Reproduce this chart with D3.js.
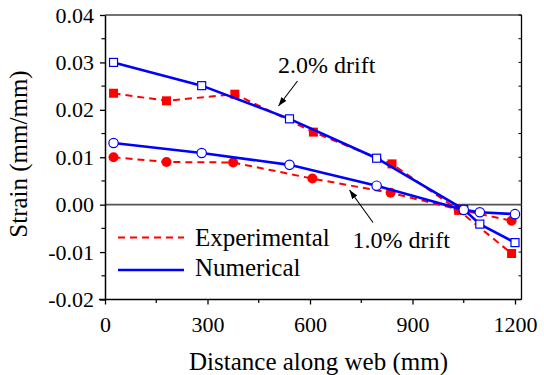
<!DOCTYPE html>
<html>
<head>
<meta charset="utf-8">
<script src="https://cdn.jsdelivr.net/npm/d3@7"></script>
<style>
  html, body { margin: 0; padding: 0; background: #fff; }
  svg text { font-family: "Liberation Serif", "Times New Roman", serif; }
</style>
</head>
<body>
<svg id="chart" width="544" height="375"></svg>
<script>
// Strain distribution along the web at two drift levels
const expX2 = [25, 180, 380, 610, 840, 1035, 1190];
const expY2 = [0.0235, 0.0219, 0.0233, 0.0153, 0.0086, -0.0012, -0.0103];
const expX1 = [25, 180, 375, 607, 836, 1035, 1190];
const expY1 = [0.0100, 0.0090, 0.0089, 0.0055, 0.0025, -0.0010, -0.0034];
const numX = [25, 283, 540, 795, 1050, 1097, 1200];
const numY2 = [0.0300, 0.0251, 0.0181, 0.0098, -0.0010, -0.0041, -0.0080];
const numY1 = [0.0130, 0.0109, 0.0084, 0.0040, -0.0011, -0.0016, -0.0020];
const xTicks = [0, 300, 600, 900, 1200];
const yTicks = [-0.02, -0.01, 0.00, 0.01, 0.02, 0.03, 0.04];

const svg = d3.select("#chart");
const pLeft = 105, pRight = 521.5, pTop = 15, pBottom = 299.5;
const FONT = "Liberation Serif";

const x = d3.scaleLinear().domain([0, 1220]).range([pLeft, pLeft + (1220 / 1200) * (515 - pLeft)]);
const y = d3.scaleLinear().domain([-0.02, 0.04]).range([pBottom, pTop]);

const RED = "#ff0000", BLUE = "#0000ff";

// frame (top and right)
svg.append("line").attr("x1", pLeft).attr("x2", pRight).attr("y1", pTop).attr("y2", pTop)
  .attr("stroke", "#444").attr("stroke-width", 1.3);
svg.append("line").attr("x1", pRight).attr("x2", pRight).attr("y1", pTop).attr("y2", pBottom)
  .attr("stroke", "#000").attr("stroke-width", 1.3);
svg.append("g").selectAll("line").data(d3.range(-0.02, 0.0401, 0.005)).join("line")
  .attr("x1", pRight).attr("x2", pRight - 3).attr("y1", d => y(d)).attr("y2", d => y(d))
  .attr("stroke", "#000").attr("stroke-width", 1);

// zero reference line
svg.append("line").attr("x1", pLeft).attr("x2", pRight).attr("y1", y(0)).attr("y2", y(0))
  .attr("stroke", "#555").attr("stroke-width", 1.8);

// x axis
const xAxis = d3.axisBottom(x).tickValues(xTicks).tickFormat(d3.format("d")).tickSize(5).tickSizeOuter(0);
const gx = svg.append("g").attr("transform", `translate(0,${pBottom})`).call(xAxis);
gx.attr("font-family", FONT).attr("font-size", 22);
gx.selectAll(".tick line").attr("stroke-width", 1.3);
gx.select(".domain").attr("stroke-width", 1.5).attr("d", `M${pLeft - 6},0H${pRight}`);
gx.selectAll("text").attr("fill", "#000").attr("dy", null).attr("y", 32.5);
svg.append("g").attr("transform", `translate(0,${pBottom})`)
  .selectAll("line").data([150, 450, 750, 1050]).join("line")
  .attr("x1", d => x(d)).attr("x2", d => x(d)).attr("y1", 0).attr("y2", 3.5)
  .attr("stroke", "#000").attr("stroke-width", 1.2);

// y axis
const yAxis = d3.axisLeft(y).tickValues(yTicks).tickSize(5).tickSizeOuter(0).tickPadding(6)
  .tickFormat(d => (d < 0 ? "-" : "") + d3.format(".2f")(Math.abs(d)));
const gy = svg.append("g").attr("transform", `translate(${pLeft},0)`).call(yAxis);
gy.attr("font-family", FONT).attr("font-size", 22);
gy.selectAll(".tick line").attr("stroke-width", 1.3);
gy.select(".domain").attr("stroke-width", 1.5);
gy.selectAll("text").attr("fill", "#000");
svg.append("g").attr("transform", `translate(${pLeft},0)`)
  .selectAll("line").data([-0.015, -0.005, 0.005, 0.015, 0.025, 0.035]).join("line")
  .attr("x1", 0).attr("x2", -3.5).attr("y1", d => y(d)).attr("y2", d => y(d))
  .attr("stroke", "#000").attr("stroke-width", 1.2);

// axis titles
svg.append("text").attr("x", 318.5).attr("y", 370).attr("text-anchor", "middle")
  .attr("font-family", FONT).attr("font-size", 25).text("Distance along web (mm)");
svg.append("text").attr("transform", "translate(26.5,154) rotate(-90)")
  .attr("text-anchor", "middle").attr("font-family", FONT).attr("font-size", 25).text("Strain (mm/mm)");

const line = d3.line().x(d => x(d[0])).y(d => y(d[1]));
const zip = (xs, ys) => xs.map((v, i) => [v, ys[i]]);

// experimental series: dashed red with filled markers
function drawExp(xs, ys, shape) {
  const pts = zip(xs, ys);
  svg.append("path").attr("d", line(pts)).attr("fill", "none")
    .attr("stroke", RED).attr("stroke-width", 2).attr("stroke-dasharray", "7,5");
  const g = svg.append("g");
  if (shape === "square") {
    g.selectAll("rect").data(pts).join("rect")
      .attr("x", d => x(d[0]) - 4.5).attr("y", d => y(d[1]) - 4.5)
      .attr("width", 9).attr("height", 9).attr("fill", RED);
  } else {
    g.selectAll("circle").data(pts).join("circle")
      .attr("cx", d => x(d[0])).attr("cy", d => y(d[1])).attr("r", 5).attr("fill", RED);
  }
}
drawExp(expX2, expY2, "square");
drawExp(expX1, expY1, "circle");

// numerical series: solid blue with open markers
function drawNum(xs, ys, shape) {
  const pts = zip(xs, ys);
  svg.append("path").attr("d", line(pts)).attr("fill", "none")
    .attr("stroke", BLUE).attr("stroke-width", 2.6);
  const g = svg.append("g");
  if (shape === "square") {
    g.selectAll("rect").data(pts).join("rect")
      .attr("x", d => x(d[0]) - 4).attr("y", d => y(d[1]) - 4)
      .attr("width", 8).attr("height", 8).attr("fill", "#fff")
      .attr("stroke", BLUE).attr("stroke-width", 1.2);
  } else {
    g.selectAll("circle").data(pts).join("circle")
      .attr("cx", d => x(d[0])).attr("cy", d => y(d[1])).attr("r", 4.7)
      .attr("fill", "#fff").attr("stroke", BLUE).attr("stroke-width", 1.2);
  }
}
drawNum(numX, numY2, "square");
drawNum(numX, numY1, "circle");

// drift annotations with arrows
const defs = svg.append("defs");
defs.append("marker").attr("id", "arrow").attr("viewBox", "0 0 10 10")
  .attr("refX", 10).attr("refY", 5).attr("markerWidth", 9).attr("markerHeight", 9)
  .attr("markerUnits", "userSpaceOnUse").attr("orient", "auto")
  .append("path").attr("d", "M0,1.5 L10,5 L0,8.5 Z").attr("fill", "#000");

svg.append("text").attr("x", 278).attr("y", 73).attr("font-family", FONT).attr("font-size", 24).text("2.0% drift");
svg.append("line").attr("x1", 297.5).attr("y1", 81).attr("x2", 278.5).attr("y2", 106)
  .attr("stroke", "#000").attr("stroke-width", 1.1).attr("marker-end", "url(#arrow)");

svg.append("text").attr("x", 352.5).attr("y", 248).attr("font-family", FONT).attr("font-size", 24).text("1.0% drift");
svg.append("line").attr("x1", 373).attr("y1", 222.5).attr("x2", 349.5).attr("y2", 190)
  .attr("stroke", "#000").attr("stroke-width", 1.1).attr("marker-end", "url(#arrow)");

// legend
const lg = svg.append("g").attr("font-family", FONT).attr("font-size", 25);
lg.append("line").attr("x1", 118).attr("x2", 184).attr("y1", 237.5).attr("y2", 237.5)
  .attr("stroke", RED).attr("stroke-width", 2).attr("stroke-dasharray", "7,5");
lg.append("text").attr("x", 195).attr("y", 246).text("Experimental");
lg.append("line").attr("x1", 118).attr("x2", 184).attr("y1", 270).attr("y2", 270)
  .attr("stroke", BLUE).attr("stroke-width", 2.6);
lg.append("text").attr("x", 195).attr("y", 276).text("Numerical");
</script>
</body>
</html>
